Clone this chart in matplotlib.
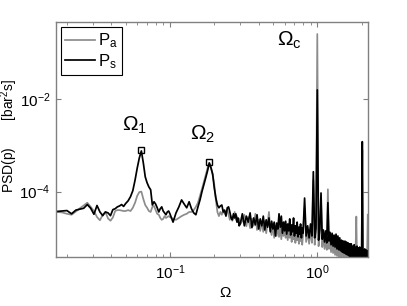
import numpy as np
import matplotlib
matplotlib.use('Agg')
import matplotlib.pyplot as plt

plt.rcParams['font.family'] = ['Liberation Sans', 'DejaVu Sans']
plt.rcParams['mathtext.fontset'] = 'custom'
plt.rcParams['mathtext.rm'] = 'Liberation Sans'
plt.rcParams['mathtext.it'] = 'Liberation Sans:italic'
plt.rcParams['mathtext.bf'] = 'Liberation Sans:bold'

# frequency grid (shared by both spectra)
freq = [
    0.017, 0.0185, 0.02, 0.0215, 0.023, 0.0245, 0.026, 0.0275, 0.029, 0.0305,
    0.032, 0.0335, 0.035, 0.0365, 0.038, 0.0395, 0.041, 0.0425, 0.044, 0.0455,
    0.047, 0.0485, 0.05,
    0.052, 0.054, 0.056, 0.058, 0.060, 0.062, 0.064, 0.066, 0.068, 0.070,
    0.072, 0.074, 0.076, 0.078, 0.080, 0.082, 0.084, 0.086, 0.088, 0.090,
    0.092, 0.094, 0.096, 0.098, 0.100,
    0.105, 0.110, 0.115, 0.120, 0.125, 0.130, 0.135, 0.140, 0.145, 0.150,
    0.155, 0.160, 0.165, 0.170, 0.175, 0.180, 0.185, 0.190, 0.195, 0.200,
    0.205, 0.210, 0.215, 0.220, 0.225, 0.230, 0.235, 0.240, 0.245, 0.250,
    0.255, 0.260, 0.265, 0.270, 0.275, 0.280, 0.285, 0.290, 0.295, 0.300,
    0.31, 0.32, 0.33, 0.34, 0.35, 0.36, 0.37, 0.38, 0.39, 0.40,
    0.41, 0.42, 0.43, 0.44, 0.45, 0.46, 0.47, 0.48, 0.49, 0.50,
    0.51, 0.52, 0.53, 0.54, 0.55, 0.56, 0.57, 0.58, 0.59, 0.60,
    0.61, 0.62, 0.63, 0.64, 0.65, 0.66, 0.67, 0.68, 0.69, 0.70,
    0.71, 0.72, 0.73, 0.74, 0.75, 0.76, 0.77, 0.78, 0.79, 0.80,
    0.82, 0.84, 0.86, 0.88, 0.90, 0.92, 0.94, 0.96, 0.98, 1.00,
    1.02, 1.04, 1.06, 1.08, 1.10, 1.12, 1.14, 1.16, 1.18, 1.20,
    1.22, 1.24, 1.26, 1.28, 1.30, 1.32, 1.34, 1.36, 1.38, 1.40,
    1.42, 1.44, 1.46, 1.48, 1.50, 1.52, 1.54, 1.56, 1.58, 1.60,
    1.62, 1.64, 1.66, 1.68, 1.70, 1.72, 1.74, 1.76, 1.78, 1.80,
    1.82, 1.84, 1.86, 1.88, 1.90, 1.92, 1.94, 1.96, 1.98, 2.00,
    2.02, 2.04, 2.06, 2.08, 2.10, 2.12, 2.14, 2.16, 2.18, 2.20,
]

# log10 of PSD
log_psd_a = [
    -4.44, -4.45, -4.48, -4.50, -4.43, -4.36, -4.30, -4.24, -4.33, -4.42,
    -4.55, -4.62, -4.50, -4.44, -4.58, -4.63, -4.56, -4.42, -4.40, -4.40,
    -4.41, -4.42, -4.42,
    -4.40, -4.42, -4.35, -4.24, -4.09, -4.01, -4.00, -4.16, -4.29, -4.35,
    -4.42, -4.44, -4.33, -4.31, -4.40, -4.48, -4.50, -4.57, -4.61, -4.59,
    -4.53, -4.57, -4.55, -4.53, -4.55,
    -4.59, -4.61, -4.57, -4.53, -4.50, -4.48, -4.44, -4.44, -4.40, -4.33,
    -4.24, -4.09, -3.94, -3.79, -3.64, -3.49, -3.38, -3.47, -3.64, -3.85,
    -4.18, -4.44, -4.53, -4.44, -4.50, -4.40, -4.48, -4.44, -4.40, -4.50,
    -4.61, -4.53, -4.63, -4.55, -4.44, -4.61, -4.53, -4.66, -4.59, -4.70,
    -4.63, -4.50, -4.75, -4.55, -4.79, -4.59, -4.74, -4.48, -4.83, -4.61,
    -4.85, -4.66, -4.87, -4.64, -4.90, -4.68, -4.44, -4.83, -4.94, -4.70,
    -5.00, -4.74, -4.96, -4.72, -4.98, -4.77, -5.03, -4.79, -4.96, -4.66,
    -5.00, -4.81, -5.05, -4.83, -5.00, -4.79, -5.09, -4.85, -5.03, -4.81,
    -5.11, -4.87, -5.05, -4.83, -5.13, -4.90, -5.07, -4.85, -5.15, -4.94,
    -4.35, -5.09, -4.87, -5.13, -4.83, -5.11, -3.75, -5.15, -4.90, -0.59,
    -5.18, -4.92, -4.20, -5.20, -4.94, -5.24, -5.00, -5.26, -3.95, -5.24,
    -5.05, -5.31, -5.07, -5.33, -5.09, -5.37, -5.11, -5.39, -5.13, -5.43,
    -5.15, -5.45, -5.18, -5.48, -5.20, -5.50, -5.18, -5.52, -5.22, -5.52,
    -5.24, -5.54, -5.26, -5.54, -5.28, -5.54, -5.26, -5.54, -5.28, -5.52,
    -5.24, -4.54, -5.52, -5.26, -5.54, -5.28, -5.54, -5.26, -5.54, -5.28,
    -3.10, -5.54, -5.31, -5.54, -5.28, -5.54, -5.31, -5.54, -5.26, -4.50,
]

log_psd_s = [
    -4.43, -4.42, -4.41, -4.48, -4.40, -4.38, -4.36, -4.28, -4.36, -4.49,
    -4.30, -4.44, -4.52, -4.44, -4.46, -4.52, -4.39, -4.37, -4.33, -4.31,
    -4.28, -4.32, -4.26,
    -4.20, -4.11, -3.98, -3.75, -3.49, -3.27, -3.12, -3.38, -3.68, -3.81,
    -3.90, -3.96, -4.29, -4.22, -4.27, -4.35, -4.44, -4.37, -4.33, -4.42,
    -4.46, -4.50, -4.44, -4.42, -4.48,
    -4.66, -4.46, -4.33, -4.18, -4.27, -4.35, -4.22, -4.37, -4.46, -4.50,
    -4.33, -4.18, -4.00, -3.85, -3.70, -3.55, -3.38, -3.49, -3.62, -3.92,
    -4.14, -4.29, -4.35, -4.31, -4.29, -4.44, -4.40, -4.53, -4.35, -4.33,
    -4.44, -4.57, -4.61, -4.48, -4.57, -4.48, -4.66, -4.57, -4.74, -4.70,
    -4.48, -4.74, -4.53, -4.66, -4.46, -4.78, -4.57, -4.72, -4.50, -4.81,
    -4.59, -4.74, -4.53, -4.83, -4.61, -4.77, -4.57, -4.87, -4.64, -4.81,
    -4.66, -4.96, -4.68, -4.81, -4.48, -4.77, -4.53, -4.90, -4.66, -4.85,
    -4.64, -4.92, -4.70, -4.85, -4.59, -4.94, -4.72, -4.87, -4.57, -4.96,
    -4.74, -4.90, -4.66, -4.98, -4.77, -4.92, -4.70, -5.00, -4.79, -4.90,
    -4.14, -4.96, -4.74, -5.00, -4.70, -4.96, -3.57, -5.00, -4.79, -1.80,
    -5.05, -4.81, -4.03, -5.03, -4.83, -5.09, -4.85, -5.11, -4.24, -5.07,
    -4.88, -5.15, -4.90, -5.18, -4.94, -5.20, -4.92, -5.24, -4.96, -5.26,
    -5.00, -5.28, -5.05, -5.31, -5.07, -5.33, -5.07, -5.35, -5.09, -5.37,
    -5.11, -5.39, -5.13, -5.43, -5.13, -5.45, -5.18, -5.43, -5.15, -5.48,
    -5.20, -5.45, -5.18, -5.48, -5.22, -5.50, -5.20, -5.48, -5.24, -5.52,
    -2.92, -5.52, -5.26, -5.52, -5.24, -5.54, -5.26, -5.52, -5.28, -5.52,
]

# marked peaks (Omega_1, Omega_2)
peak_freq = [0.064, 0.185]
peak_log_psd = [-3.11, -3.36]

y_ticks = [1e-4, 1e-2]
x_ticks = [0.1, 1.0]

psd_a = 10 ** np.array(log_psd_a)
psd_s = 10 ** np.array(log_psd_s)

fig = plt.figure(figsize=(4.07, 3.06), dpi=100)
ax = fig.add_axes([0.137, 0.161, 0.768, 0.766])

ax.loglog(freq, psd_a, color='0.55', lw=1.25, label=r'P$_\mathrm{a}$')
ax.loglog(freq, psd_s, color='k', lw=1.25, label=r'P$_\mathrm{s}$')
ax.plot(peak_freq, 10 ** np.array(peak_log_psd), 's', ms=5, mfc='none',
        mec='k', mew=1.0)

ax.set_xlim(0.0168, 2.22)
ax.set_ylim(3.9e-6, 0.46)
ax.set_yticks(y_ticks)
ax.yaxis.set_minor_locator(matplotlib.ticker.NullLocator())
ax.set_xticks(x_ticks)

frame = '0.5'
for s in ax.spines.values():
    s.set_color(frame)
    s.set_linewidth(1.0)
ax.tick_params(which='both', direction='in', top=True, right=True,
               color=frame, labelsize=11, labelcolor='k')
ax.tick_params(which='major', length=3.5, pad=4)
ax.tick_params(axis='x', which='major', pad=5)
ax.tick_params(which='minor', length=2)

ax.set_xlabel(r'$\Omega$', fontsize=11)
ax.xaxis.set_label_coords(0.542, -0.125)
ax.set_ylabel(r'PSD(p)       [bar$^2$s]', fontsize=10)
ax.yaxis.set_label_coords(-0.114, 0.515)

ax.text(0.212, 0.536, r'$\Omega_1$', transform=ax.transAxes, fontsize=15,
        ha='left', va='baseline')
ax.text(0.430, 0.498, r'$\Omega_2$', transform=ax.transAxes, fontsize=15,
        ha='left', va='baseline')
ax.text(0.708, 0.900, r'$\Omega_\mathrm{c}$', transform=ax.transAxes,
        fontsize=15, ha='left', va='baseline')

leg = ax.legend(loc='upper left', fontsize=12, handlelength=1.8,
                handletextpad=0.2, borderaxespad=0.3, labelspacing=0.1,
                borderpad=0.25, fancybox=False, framealpha=1)
leg.get_frame().set_edgecolor('k')
leg.get_frame().set_linewidth(0.8)

fig.savefig('out.png', dpi=100)
